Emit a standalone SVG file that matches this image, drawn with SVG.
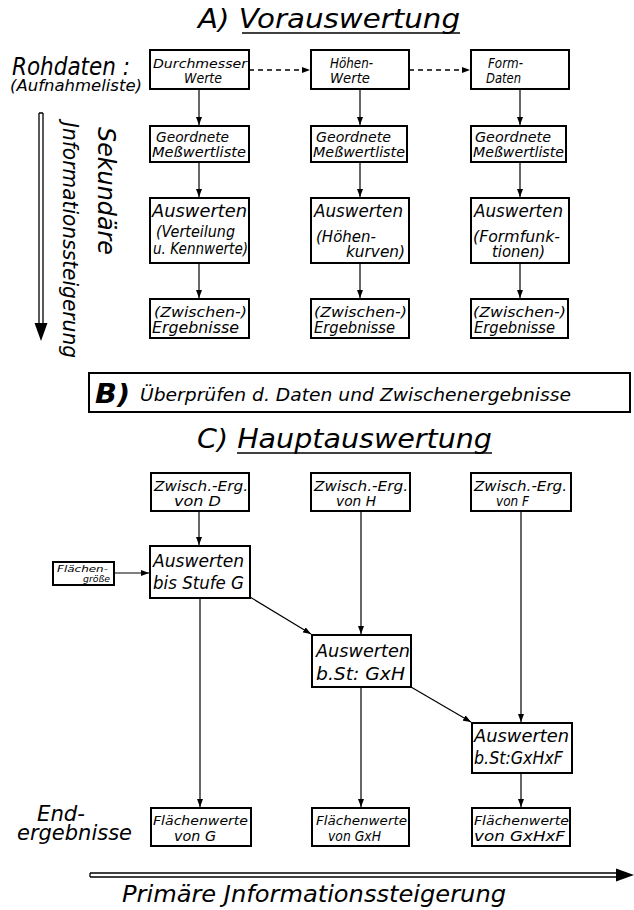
<svg xmlns="http://www.w3.org/2000/svg" width="634" height="910" viewBox="0 0 634 910">
<style>
text{font-family:"DejaVu Sans","Liberation Sans",sans-serif;font-style:italic;fill:#000}
.box{fill:#fff;stroke:#000;stroke-width:2}
.c{fill:none;stroke:#000;stroke-width:1.2}
.d{fill:none;stroke:#000;stroke-width:1.3;stroke-dasharray:5 4}
.t13{font-size:13px}.t14{font-size:14px}.t15{font-size:15px}.t18{font-size:18px}
.ul{stroke:#000;stroke-width:1.5}
</style>
<defs>
<marker id="ah" viewBox="0 0 8 6" refX="8" refY="3" markerWidth="8" markerHeight="6" markerUnits="userSpaceOnUse" orient="auto">
<path d="M0,0 L8,3 L0,6 Z" fill="#000"/>
</marker>
</defs>
<rect width="634" height="910" fill="#fff"/>

<!-- titles and side labels -->
<g id="titleA">
<text x="198" y="28" font-size="27" textLength="262" lengthAdjust="spacingAndGlyphs">A) Vorauswertung</text>
<line class="ul" x1="242" y1="33" x2="460" y2="33"/>
</g>
<g id="rohdaten">
<text x="12" y="75" font-size="24" textLength="118" lengthAdjust="spacingAndGlyphs">Rohdaten :</text>
<text x="10" y="91" font-size="15" textLength="132" lengthAdjust="spacingAndGlyphs">(Aufnahmeliste)</text>
</g>
<g id="sekundaer">
<path d="M39,113 V325 M43,113 V325 M39,113 H43" fill="none" stroke="#000" stroke-width="1.3"/>
<path d="M34.5,323 L47.5,323 L41,341 Z" fill="#000"/>
<text transform="translate(98,127) rotate(90)" font-size="24" textLength="128" lengthAdjust="spacingAndGlyphs">Sekundäre</text>
<text transform="translate(63,122) rotate(90)" font-size="22" textLength="236" lengthAdjust="spacingAndGlyphs">Jnformationssteigerung</text>
</g>

<!-- A row 1 -->
<g id="durchmesser">
<rect class="box" x="150" y="50" width="99" height="39"/>
<text class="t13" x="153" y="68" textLength="94" lengthAdjust="spacingAndGlyphs">Durchmesser</text>
<text class="t14" x="184" y="83" textLength="38" lengthAdjust="spacingAndGlyphs">Werte</text>
</g>
<g id="hoehen">
<rect class="box" x="311" y="50" width="98" height="39"/>
<text class="t14" x="330" y="68" textLength="43" lengthAdjust="spacingAndGlyphs">Höhen-</text>
<text class="t14" x="330" y="83" textLength="40" lengthAdjust="spacingAndGlyphs">Werte</text>
</g>
<g id="form">
<rect class="box" x="471" y="50" width="98" height="39"/>
<text class="t14" x="488" y="68" textLength="35" lengthAdjust="spacingAndGlyphs">Form-</text>
<text class="t14" x="486" y="83" textLength="35" lengthAdjust="spacingAndGlyphs">Daten</text>
</g>

<!-- A row 2 -->
<g id="geordnet1">
<rect class="box" x="150" y="126" width="99" height="36"/>
<text class="t14" x="156" y="142" textLength="73" lengthAdjust="spacingAndGlyphs">Geordnete</text>
<text class="t14" x="152" y="157" textLength="94" lengthAdjust="spacingAndGlyphs">Meßwertliste</text>
</g>
<g id="geordnet2">
<rect class="box" x="311" y="126" width="96" height="36"/>
<text class="t14" x="316" y="142" textLength="75" lengthAdjust="spacingAndGlyphs">Geordnete</text>
<text class="t14" x="313" y="157" textLength="92" lengthAdjust="spacingAndGlyphs">Meßwertliste</text>
</g>
<g id="geordnet3">
<rect class="box" x="471" y="126" width="95" height="36"/>
<text class="t14" x="475" y="142" textLength="76" lengthAdjust="spacingAndGlyphs">Geordnete</text>
<text class="t14" x="473" y="157" textLength="91" lengthAdjust="spacingAndGlyphs">Meßwertliste</text>
</g>

<!-- A row 3 -->
<g id="auswerten1">
<rect class="box" x="150" y="198" width="99" height="65"/>
<text class="t18" x="152" y="217" textLength="95" lengthAdjust="spacingAndGlyphs">Auswerten</text>
<text class="t15" x="156" y="237" textLength="79" lengthAdjust="spacingAndGlyphs">(Verteilung</text>
<text class="t15" x="153" y="254" textLength="95" lengthAdjust="spacingAndGlyphs">u. Kennwerte)</text>
</g>
<g id="auswerten2">
<rect class="box" x="311" y="198" width="98" height="65"/>
<text class="t18" x="314" y="217" textLength="89" lengthAdjust="spacingAndGlyphs">Auswerten</text>
<text class="t15" x="316" y="242" textLength="60" lengthAdjust="spacingAndGlyphs">(Höhen-</text>
<text class="t15" x="346" y="257" textLength="59" lengthAdjust="spacingAndGlyphs">kurven)</text>
</g>
<g id="auswerten3">
<rect class="box" x="471" y="198" width="98" height="65"/>
<text class="t18" x="474" y="217" textLength="89" lengthAdjust="spacingAndGlyphs">Auswerten</text>
<text class="t15" x="473" y="242" textLength="87" lengthAdjust="spacingAndGlyphs">(Formfunk-</text>
<text class="t15" x="492" y="257" textLength="53" lengthAdjust="spacingAndGlyphs">tionen)</text>
</g>

<!-- A row 4 -->
<g id="zwischen1">
<rect class="box" x="150" y="299" width="99" height="39"/>
<text class="t14" x="154" y="317" textLength="93" lengthAdjust="spacingAndGlyphs">(Zwischen-)</text>
<text class="t15" x="152" y="333" textLength="87" lengthAdjust="spacingAndGlyphs">Ergebnisse</text>
</g>
<g id="zwischen2">
<rect class="box" x="311" y="299" width="98" height="39"/>
<text class="t14" x="314" y="317" textLength="93" lengthAdjust="spacingAndGlyphs">(Zwischen-)</text>
<text class="t15" x="314" y="333" textLength="81" lengthAdjust="spacingAndGlyphs">Ergebnisse</text>
</g>
<g id="zwischen3">
<rect class="box" x="471" y="299" width="97" height="39"/>
<text class="t14" x="473" y="317" textLength="93" lengthAdjust="spacingAndGlyphs">(Zwischen-)</text>
<text class="t15" x="474" y="333" textLength="81" lengthAdjust="spacingAndGlyphs">Ergebnisse</text>
</g>

<!-- B -->
<g id="pruefen">
<rect class="box" x="89" y="373" width="541" height="39"/>
<text x="95" y="403" font-size="27" font-weight="bold" textLength="35" lengthAdjust="spacingAndGlyphs">B)</text>
<text x="140" y="401" font-size="18" textLength="431" lengthAdjust="spacingAndGlyphs">Überprüfen d. Daten und Zwischenergebnisse</text>
</g>

<!-- C -->
<g id="titleC">
<text x="197" y="448" font-size="26" textLength="295" lengthAdjust="spacingAndGlyphs">C) Hauptauswertung</text>
<line class="ul" x1="237" y1="453" x2="492" y2="453"/>
</g>
<g id="zwischD">
<rect class="box" x="151" y="473" width="98" height="38"/>
<text class="t14" x="154" y="491" textLength="94" lengthAdjust="spacingAndGlyphs">Zwisch.-Erg.</text>
<text class="t14" x="174" y="506" textLength="47" lengthAdjust="spacingAndGlyphs">von D</text>
</g>
<g id="zwischH">
<rect class="box" x="311" y="473" width="99" height="38"/>
<text class="t14" x="314" y="491" textLength="94" lengthAdjust="spacingAndGlyphs">Zwisch.-Erg.</text>
<text class="t14" x="336" y="506" textLength="40" lengthAdjust="spacingAndGlyphs">von H</text>
</g>
<g id="zwischF">
<rect class="box" x="471" y="473" width="100" height="38"/>
<text class="t14" x="474" y="491" textLength="93" lengthAdjust="spacingAndGlyphs">Zwisch.-Erg.</text>
<text class="t14" x="496" y="506" textLength="33" lengthAdjust="spacingAndGlyphs">von F</text>
</g>
<g id="flaechengroesse">
<rect class="box" x="53" y="562" width="61" height="23"/>
<text x="57" y="572" font-size="9" textLength="51" lengthAdjust="spacingAndGlyphs">Flächen-</text>
<text x="83" y="582" font-size="9" textLength="27" lengthAdjust="spacingAndGlyphs">größe</text>
</g>
<g id="auswertenG">
<rect class="box" x="150" y="546" width="100" height="52"/>
<text class="t18" x="153" y="567" textLength="91" lengthAdjust="spacingAndGlyphs">Auswerten</text>
<text class="t18" x="153" y="589" textLength="91" lengthAdjust="spacingAndGlyphs">bis Stufe G</text>
</g>
<g id="auswertenGH">
<rect class="box" x="312" y="635" width="99" height="52"/>
<text class="t18" x="316" y="657" textLength="94" lengthAdjust="spacingAndGlyphs">Auswerten</text>
<text class="t18" x="316" y="680" textLength="89" lengthAdjust="spacingAndGlyphs">b.St: GxH</text>
</g>
<g id="auswertenGHF">
<rect class="box" x="472" y="723" width="100" height="50"/>
<text class="t18" x="474" y="742" textLength="95" lengthAdjust="spacingAndGlyphs">Auswerten</text>
<text class="t18" x="474" y="764" textLength="89" lengthAdjust="spacingAndGlyphs">b.St:GxHxF</text>
</g>
<g id="flaecheG">
<rect class="box" x="151" y="808" width="100" height="38"/>
<text class="t13" x="153" y="825" textLength="95" lengthAdjust="spacingAndGlyphs">Flächenwerte</text>
<text class="t14" x="174" y="841" textLength="42" lengthAdjust="spacingAndGlyphs">von G</text>
</g>
<g id="flaecheGH">
<rect class="box" x="312" y="808" width="97" height="38"/>
<text class="t13" x="316" y="825" textLength="91" lengthAdjust="spacingAndGlyphs">Flächenwerte</text>
<text class="t14" x="328" y="841" textLength="53" lengthAdjust="spacingAndGlyphs">von GxH</text>
</g>
<g id="flaecheGHF">
<rect class="box" x="472" y="808" width="98" height="38"/>
<text class="t13" x="474" y="825" textLength="95" lengthAdjust="spacingAndGlyphs">Flächenwerte</text>
<text class="t14" x="474" y="841" textLength="91" lengthAdjust="spacingAndGlyphs">von GxHxF</text>
</g>
<g id="endergebnisse">
<text x="37" y="821" font-size="22" textLength="48" lengthAdjust="spacingAndGlyphs">End-</text>
<text x="17" y="840" font-size="22" textLength="115" lengthAdjust="spacingAndGlyphs">ergebnisse</text>
</g>
<g id="primaer">
<path d="M90,873 H620 M90,877 H620 M90,873 V877" fill="none" stroke="#000" stroke-width="1.3"/>
<path d="M616,868.5 L634,875 L616,881.5 Z" fill="#000"/>
<text x="122" y="902" font-size="23" textLength="384" lengthAdjust="spacingAndGlyphs">Primäre Jnformationssteigerung</text>
</g>

<!-- connectors -->
<g id="connectors">
<line class="d" x1="249" y1="70" x2="310" y2="70" marker-end="url(#ah)"/>
<line class="d" x1="409" y1="70" x2="470" y2="70" marker-end="url(#ah)"/>
<line class="c" x1="199" y1="89" x2="199" y2="125" marker-end="url(#ah)"/>
<line class="c" x1="360" y1="89" x2="360" y2="125" marker-end="url(#ah)"/>
<line class="c" x1="520" y1="89" x2="520" y2="125" marker-end="url(#ah)"/>
<line class="c" x1="199" y1="162" x2="199" y2="197" marker-end="url(#ah)"/>
<line class="c" x1="360" y1="162" x2="360" y2="197" marker-end="url(#ah)"/>
<line class="c" x1="520" y1="162" x2="520" y2="197" marker-end="url(#ah)"/>
<line class="c" x1="199" y1="263" x2="199" y2="298" marker-end="url(#ah)"/>
<line class="c" x1="360" y1="263" x2="360" y2="298" marker-end="url(#ah)"/>
<line class="c" x1="520" y1="263" x2="520" y2="298" marker-end="url(#ah)"/>
<line class="c" x1="199" y1="511" x2="199" y2="545" marker-end="url(#ah)"/>
<line class="c" x1="114" y1="573" x2="149" y2="573" marker-end="url(#ah)"/>
<line class="c" x1="361" y1="511" x2="361" y2="634" marker-end="url(#ah)"/>
<line class="c" x1="521" y1="511" x2="521" y2="722" marker-end="url(#ah)"/>
<line class="c" x1="250" y1="597" x2="311" y2="634" marker-end="url(#ah)"/>
<line class="c" x1="411" y1="687" x2="471" y2="722" marker-end="url(#ah)"/>
<line class="c" x1="200" y1="598" x2="200" y2="807" marker-end="url(#ah)"/>
<line class="c" x1="361" y1="687" x2="361" y2="807" marker-end="url(#ah)"/>
<line class="c" x1="521" y1="773" x2="521" y2="807" marker-end="url(#ah)"/>
</g>
</svg>
